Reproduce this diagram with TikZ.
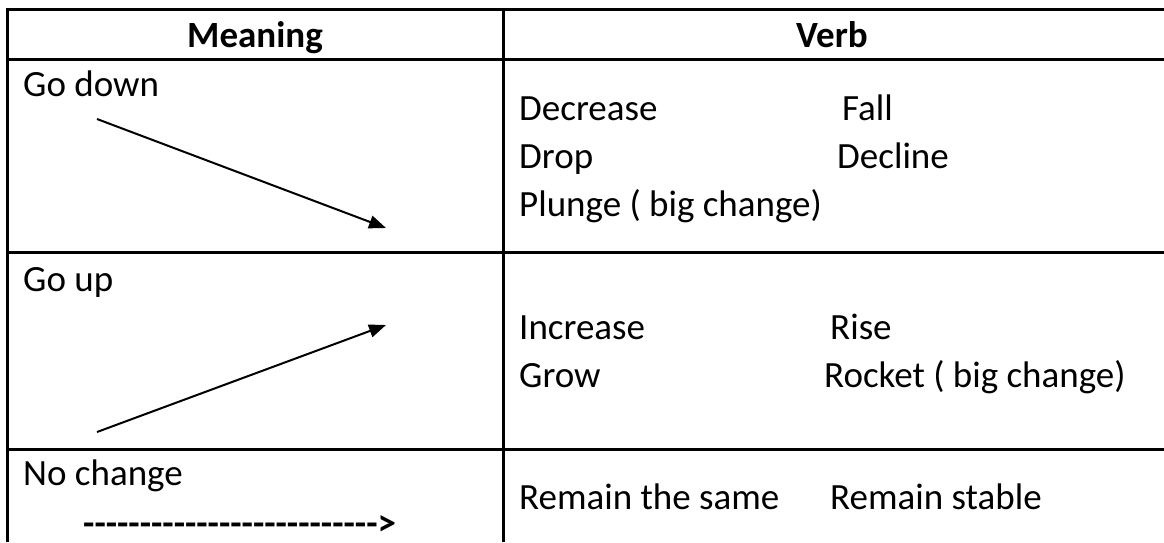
\documentclass[tikz,border=0pt]{standalone}
\usepackage{fontspec}
\setmainfont{Carlito}
\usetikzlibrary{arrows.meta}
\begin{document}
\begin{tikzpicture}[x=1pt,y=-1pt,
  grid/.style={line width=3pt,black},
  txt/.style={anchor=base west,inner sep=0pt,font=\fontsize{37}{40}\selectfont},
  head/.style={anchor=base,inner sep=0pt,font=\fontsize{37}{40}\selectfont\bfseries},
  trend/.style={line width=2pt,-{Triangle[length=17pt,width=13pt]}}]
\useasboundingbox (0,0) rectangle (1164,542);
% table grid
\draw[grid] (1164,9) -- (7,9) -- (7,542);
\draw[grid] (7,59) -- (1164,59);
\draw[grid] (7,252) -- (1164,252);
\draw[grid] (7,449) -- (1164,449);
\draw[grid] (503,9) -- (503,542);
% header
\node[head] (hm) at (255,47) {Meaning};
\node[head] (hv) at (832,47) {Verb};
% left column
\node[txt] (gd) at (23,96) {Go down};
\node[txt] (gu) at (23,291) {Go up};
\node[txt] (nc) at (23,485) {No change};
\coordinate (d1) at (97,119);
\coordinate (d2) at (386,228);
\draw[trend] (d1) -- (d2);
\coordinate (u1) at (97,432);
\coordinate (u2) at (386,325);
\draw[trend] (u1) -- (u2);
\node[txt,font=\fontsize{37}{40}\selectfont\bfseries] (dash) at (83,535) {-{}-{}-{}-{}-{}-{}-{}-{}-{}-{}-{}-{}-{}-{}-{}-{}-{}-{}-{}-{}-{}-{}-{}-{}-{}->};
% right column
\node[txt] (v1) at (519,120) {Decrease};
\node[txt] (v2) at (842,120) {Fall};
\node[txt] (v3) at (519,168) {Drop};
\node[txt] (v4) at (837,168) {Decline};
\node[txt] (v5) at (519,216) {Plunge ( big change)};
\node[txt] (v6) at (519,339) {Increase};
\node[txt] (v7) at (830,339) {Rise};
\node[txt] (v8) at (519,387) {Grow};
\node[txt] (v9) at (824,387) {Rocket ( big change)};
\node[txt] (v10) at (519,509) {Remain the same};
\node[txt] (v11) at (830,509) {Remain stable};
\end{tikzpicture}
\end{document}
